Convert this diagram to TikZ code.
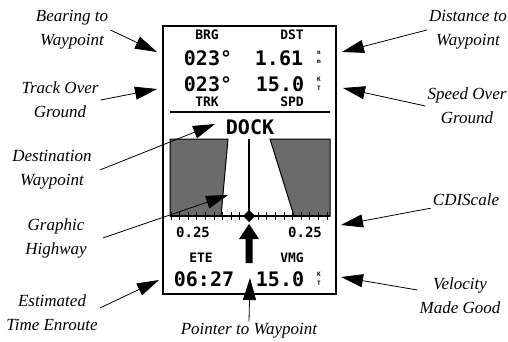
\documentclass[tikz,border=0pt]{standalone}
\usepackage{fontspec}
\setmainfont{Liberation Serif}
\newfontfamily\pantallafont{DejaVu Sans Mono}
\usetikzlibrary{arrows.meta}

\begin{document}
\begin{tikzpicture}[x=1pt, y=-1pt,
    rotulo/.style={font=\fontsize{17}{24}\selectfont\itshape, align=center, inner sep=2pt},
    flecha/.style={-{Triangle[length=22pt, width=13pt]}, line width=0.8pt},
    titulo/.style={font=\pantallafont\bfseries\fontsize{13}{13}\selectfont, inner sep=0pt},
    cifra/.style={font=\pantallafont\bfseries\fontsize{20}{20}\selectfont, inner sep=0pt},
    escala/.style={font=\pantallafont\bfseries\fontsize{14}{14}\selectfont, inner sep=0pt},
    unidad/.style={font=\pantallafont\bfseries\fontsize{6}{6}\selectfont, inner sep=0pt},
    sombra/.style={draw, line width=1pt, fill=black!58}
  ]
  \useasboundingbox (0,0) rectangle (508,342);

  % pantalla del receptor
  \node[draw, line width=1.5pt, minimum width=173pt, minimum height=268pt, inner sep=0pt] (pantalla) at (249.5,160) {};

  \node[titulo] (brg) at (207,35) {BRG};
  \node[titulo] (dst) at (292,35) {DST};
  \node[cifra] (brgv) at (208,58) {023°};
  \node[cifra] (dstv) at (279,58) {1.61};
  \node[unidad] (dstn) at (319,53) {n};
  \node[unidad] (dstm) at (319,62) {m};
  \node[cifra] (trkv) at (208,84) {023°};
  \node[cifra] (spdv) at (280,84) {15.0};
  \node[unidad] (spdk) at (319,79) {K};
  \node[unidad] (spdt) at (319,88) {T};
  \node[titulo] (trk) at (207,102) {TRK};
  \node[titulo] (spd) at (292,102) {SPD};
  \draw[line width=2.5pt] (170,112) -- (330,112);
  \node[cifra] (dock) at (250,127) {DOCK};

  % carretera grafica
  \draw[sombra] (170,139) -- (228,139) -- (221,216) -- (170,216) -- cycle;
  \draw[sombra] (270,139) -- (330,139) -- (330,216) -- (294,216) -- cycle;
  \draw[line width=1.5pt] (249,139) -- (249,216);
  \draw[line width=1.2pt] (170,216) -- (330,216);
  \foreach \k in {0,...,8} {
    \draw[line width=1pt] (171+\k*8.6,212) -- ++(0,8);
    \draw[line width=1pt] (327-\k*8.6,212) -- ++(0,8);
  }
  \fill (249,210) -- (255,216) -- (249,222) -- (243,216) -- cycle;
  \node[escala] (escizq) at (193,232) {0.25};
  \node[escala] (escder) at (305,232) {0.25};
  \fill (249,224) -- (259,239) -- (252.5,239) -- (252.5,263) -- (245.5,263) -- (245.5,239) -- (239,239) -- cycle;

  \node[titulo] (ete) at (201,258) {ETE};
  \node[titulo] (vmg) at (292,258) {VMG};
  \node[cifra] (etev) at (204,279) {06:27};
  \node[cifra] (vmgv) at (280,279) {15.0};
  \node[unidad] (vmgk) at (319,274) {K};
  \node[unidad] (vmgt) at (319,283) {T};

  % rotulos y flechas
  \node[rotulo] (brgl) at (72,30) {Bearing to\\Waypoint};
  \node[rotulo] (trkl) at (60,100) {Track Over\\Ground};
  \node[rotulo] (destl) at (52,170) {Destination\\Waypoint};
  \node[rotulo] (ghl) at (56,238) {Graphic\\Highway};
  \node[rotulo] (etel) at (52,313) {Estimated\\Time Enroute};
  \node[rotulo] (dstl) at (468,30) {Distance to\\Waypoint};
  \node[rotulo] (spdl) at (467,106) {Speed Over\\Ground};
  \node[rotulo] (cdil) at (466,200) {CDIScale};
  \node[rotulo] (vmgl) at (460,296) {Velocity\\Made Good};
  \node[rotulo] (ptrl) at (249,331) {Pointer to Waypoint};

  \coordinate (brgp) at (157,52);
  \coordinate (trkp) at (157,89);
  \coordinate (destp) at (215,124);
  \coordinate (ghp) at (228,195);
  \coordinate (etep) at (159,280);
  \coordinate (dstp) at (342,52);
  \coordinate (spdp) at (343,88);
  \coordinate (cdip) at (341,225);
  \coordinate (vmgp) at (341,277);
  \coordinate (ptrp) at (250,278);

  \draw[flecha] (brgl.east) -- (brgp);
  \draw[flecha] (trkl.east) -- (trkp);
  \draw[flecha] ([xshift=6pt]destl.east) -- (destp);
  \draw[flecha] ([xshift=14pt]ghl.east) -- (ghp);
  \draw[flecha] ([yshift=5pt]etel.east) -- (etep);
  \draw[flecha] (dstl.west) -- (dstp);
  \draw[flecha] (spdl.west) -- (spdp);
  \draw[flecha] (cdil.south west) -- (cdip);
  \draw[flecha] ([yshift=6pt]vmgl.west) -- (vmgp);
  \draw[flecha] (ptrl.north) -- (ptrp);
\end{tikzpicture}
\end{document}
